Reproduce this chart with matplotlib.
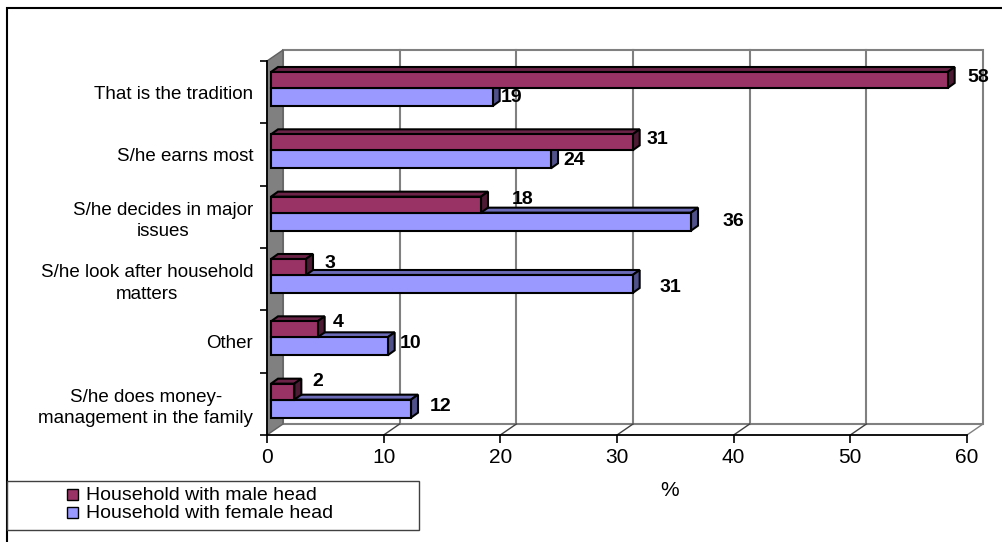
import matplotlib
matplotlib.use("Agg")
import matplotlib.pyplot as plt
from matplotlib.patches import Polygon, Rectangle

plt.rcParams["font.family"] = ["Liberation Sans", "DejaVu Sans"]

# Reasons given, top to bottom as in the chart
categories = [
    "That is the tradition",
    "S/he earns most",
    "S/he decides in major\nissues",
    "S/he look after household\nmatters",
    "Other",
    "S/he does money-\nmanagement in the family",
]
male_head = [58, 31, 18, 3, 4, 2]
female_head = [19, 24, 36, 31, 10, 12]
x_ticks = [0, 10, 20, 30, 40, 50, 60]
legend_labels = ["Household with male head", "Household with female head"]

# layout (pixels of the 1003x542 canvas)
W, H = 1003, 542
AX_L, AX_R, AX_T, AX_B = 267, 967, 61, 435
WALL_DX, WALL_DY = 16, 11
BAR_DX, BAR_DY = 7, 5
BAR_X0 = 4

MALE_COL, MALE_TOP, MALE_SIDE = "#993366", "#6b2447", "#4d1a33"
FEM_COL, FEM_TOP, FEM_SIDE = "#9999ff", "#6b6bb8", "#50508a"
GRID = "#808080"

# Excel places the 3D value labels a little irregularly: nudges in pixels
male_lab_dx = [20, 14, 31, 19, 15, 18]
male_lab_dy = [-2, -3, -5, -4, -7, -10]
fem_lab_dx = [8, 12, 32, 27, 12, 19]
fem_lab_dy = [0, 1, 0, 3, -3, -2]


def fx(px):
    return px / W


def fy(py):
    return 1 - py / H


fig = plt.figure(figsize=(W / 100, H / 100), dpi=100)
ax = fig.add_axes([fx(AX_L), fy(AX_B), (AX_R - AX_L) / W, (AX_B - AX_T) / H])
xmax = x_ticks[-1]
n = len(categories)
ax.set_xlim(0, xmax)
ax.set_ylim(0, n)

sx = (AX_R - AX_L) / xmax
sy = (AX_B - AX_T) / n
wdx, wdy = WALL_DX / sx, WALL_DY / sy
bdx, bdy = BAR_DX / sx, BAR_DY / sy
bx0 = BAR_X0 / sx

# back wall, gridlines, floor and side wall
ax.add_patch(Rectangle((wdx, wdy), xmax, n, facecolor="white", edgecolor=GRID,
                       lw=1.5, zorder=0.5, clip_on=False))
for t in x_ticks[1:-1]:
    ax.plot([t + wdx, t + wdx], [wdy, n + wdy], color=GRID, lw=1.5, zorder=0.6, clip_on=False)
for t in x_ticks[1:]:
    ax.plot([t, t + wdx], [0, wdy], color="#404040" if t < xmax else GRID, lw=1,
            zorder=0.7, clip_on=False)
ax.add_patch(Polygon([(0, 0), (0, n), (wdx, n + wdy), (wdx, wdy)], closed=True,
                     facecolor="#808080", edgecolor="#606060", lw=1, zorder=1, clip_on=False))


def draw_bar(y0, h, v, face, top, side):
    x0, x1, y1 = bx0, bx0 + v, y0 + h
    kw = dict(edgecolor="black", lw=1.5, joinstyle="miter", clip_on=False, zorder=3)
    ax.add_patch(Polygon([(x0, y1), (x1, y1), (x1 + bdx, y1 + bdy), (x0 + bdx, y1 + bdy)],
                         closed=True, facecolor=top, **kw))
    ax.add_patch(Polygon([(x1, y0), (x1, y1), (x1 + bdx, y1 + bdy), (x1 + bdx, y0 + bdy)],
                         closed=True, facecolor=side, **kw))
    ax.add_patch(Rectangle((x0, y0), v, h, facecolor=face, **kw))


for k, cat in enumerate(categories):
    top_y = n - k
    m_hi, m_lo = top_y - 11 / sy, top_y - 27 / sy
    f_hi, f_lo = m_lo, top_y - 45 / sy
    draw_bar(f_lo, f_hi - f_lo, female_head[k], FEM_COL, FEM_TOP, FEM_SIDE)
    draw_bar(m_lo, m_hi - m_lo, male_head[k], MALE_COL, MALE_TOP, MALE_SIDE)
    ax.text(bx0 + male_head[k] + male_lab_dx[k] / sx, (m_hi + m_lo) / 2 - male_lab_dy[k] / sy,
            str(male_head[k]), ha="left", va="center", fontsize=14, fontweight="bold",
            zorder=5, clip_on=False)
    ax.text(bx0 + female_head[k] + fem_lab_dx[k] / sx, (f_hi + f_lo) / 2 - fem_lab_dy[k] / sy,
            str(female_head[k]), ha="left", va="center", fontsize=14, fontweight="bold",
            zorder=5, clip_on=False)

# axes
for side in ("top", "right"):
    ax.spines[side].set_visible(False)
for side in ("left", "bottom"):
    ax.spines[side].set_color("black")
    ax.spines[side].set_linewidth(1.3)
    ax.spines[side].set_zorder(2.5)

ax.set_xticks(x_ticks)
ax.set_xticklabels([str(t) for t in x_ticks])
ax.tick_params(axis="x", length=5.5, width=1.2, labelsize=15, pad=4)

ax.set_yticks(range(n + 1))
ax.set_yticklabels([])
ax.tick_params(axis="y", which="major", length=5, width=1.2)
ax.set_yticks([n - k - 0.5 for k in range(n)], minor=True)
ax.set_yticklabels(categories, minor=True)
ax.tick_params(axis="y", which="minor", length=0, pad=10, labelsize=13.5)
for lab in ax.get_yticklabels(minor=True):
    lab.set_multialignment("center")
    lab.set_linespacing(1.35)

fig.text(fx(670), fy(490), "%", ha="center", va="center", fontsize=15)

# chart border
fig.patches.append(Rectangle((fx(7), fy(560)), fx(1020), fy(8) - fy(560), transform=fig.transFigure,
                             fill=False, edgecolor="black", lw=1.5))

# legend box
fig.patches.append(Rectangle((fx(7), fy(530)), fx(419) - fx(7), fy(481) - fy(530),
                             transform=fig.transFigure, facecolor="white", edgecolor="#404040", lw=1))
for row, (lab, col) in enumerate(zip(legend_labels, [MALE_COL, FEM_COL])):
    yc = 495 + row * 18
    fig.patches.append(Rectangle((fx(67), fy(yc + 5)), fx(11), fy(0) - fy(11),
                                 transform=fig.transFigure, facecolor=col, edgecolor="black", lw=1))
    fig.text(fx(86), fy(yc), lab, ha="left", va="center", fontsize=14)

fig.savefig("out.png", dpi=100)
